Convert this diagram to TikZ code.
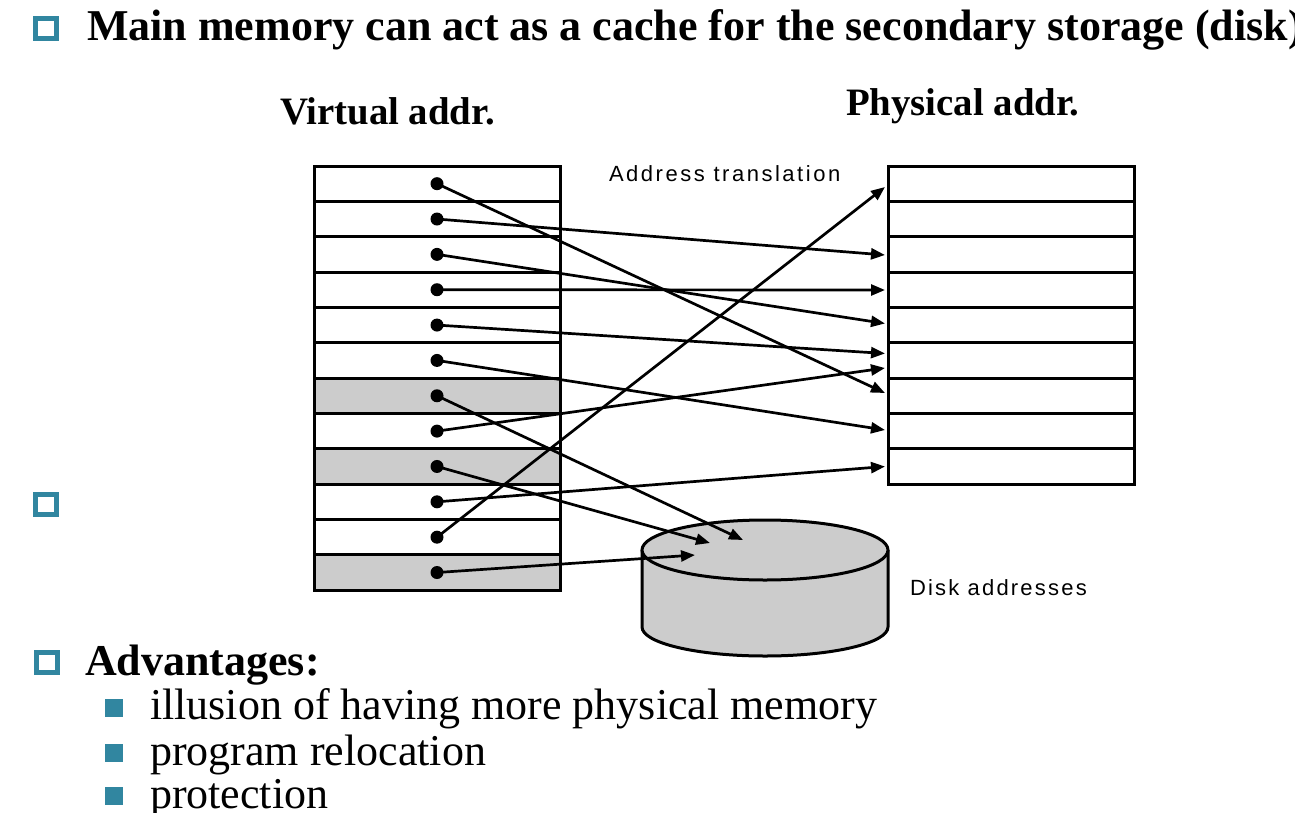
\documentclass[tikz,border=0pt]{standalone}
\usepackage{fontspec}
\setmainfont{Liberation Serif}
\newfontfamily\arialfont{Liberation Sans}
\usetikzlibrary{arrows.meta}
\definecolor{teal1}{RGB}{49,134,160}
\definecolor{cellgray}{RGB}{204,204,204}
\begin{document}
\begin{tikzpicture}[x=0.5pt,y=-0.5pt,
  cell/.style={draw=black, line width=1.5pt, minimum width=123pt, minimum height=17.675pt, inner sep=0pt, outer sep=0pt},
  dotnode/.style={circle, fill=black, inner sep=0pt, minimum size=6.5pt},
  link/.style={line width=1.35pt, -{Triangle[length=7pt,width=5.5pt]}},
  hbullet/.style={draw=teal1, line width=2.5pt, minimum width=10.5pt, minimum height=10pt, inner sep=0pt, fill=white},
  fbullet/.style={fill=teal1, minimum size=9pt, inner sep=0pt},
  txt/.style={anchor=base west, inner sep=0pt, outer sep=0pt},
  bigbold/.style={font=\fontsize{22pt}{26pt}\selectfont\bfseries},
  bigreg/.style={font=\fontsize{22pt}{26pt}\selectfont},
  headbold/.style={font=\fontsize{19.4pt}{23pt}\selectfont\bfseries},
]
\useasboundingbox (0,0) rectangle (1295,813);
\fill[white] (0,0) rectangle (1295,813);

% bullets and text
\node[hbullet] (b1) at (46,28.5) {};
\node[txt, bigbold] (title) at (87,40.7) {Main memory can act as a cache for the secondary storage (disk)};
\node[hbullet] (b2) at (46,504.5) {};
\node[hbullet] (b3) at (46.5,662) {};
\node[txt, bigbold] (adv) at (85,675) {Advantages:};
\node[fbullet] (s1) at (114,707.5) {};
\node[txt, bigreg] (i1) at (150,719.3) {illusion of having more physical memory};
\node[fbullet] (s2) at (114,753) {};
\node[txt, bigreg] (i2) at (150,765) {program relocation};
\node[fbullet] (s3) at (114,796) {};
\node[txt, bigreg] (i3) at (150,808) {protection};

\node[txt, headbold] (vhead) at (280,125) {Virtual addr.};
\node[txt, headbold] (phead) at (846,116) {Physical addr.};
\node[txt, font=\arialfont\fontsize{11pt}{13pt}\selectfont\addfontfeature{LetterSpace=11.5}] (atl) at (609,181) {Address translation};
\node[txt, font=\arialfont\fontsize{11pt}{13pt}\selectfont\addfontfeature{LetterSpace=10}] (dal) at (910,595) {Disk addresses};

% virtual table
\foreach \i/\f in {0/white,1/white,2/white,3/white,4/white,5/white,6/cellgray,7/white,8/cellgray,9/white,10/white,11/cellgray}
  \node[cell, fill=\f] (vr\i) at (437,{166+35.35*(\i+0.5)}) {};
% physical table
\foreach \i in {0,...,8}
  \node[cell, fill=white] (pr\i) at (1011,{166+35.35*(\i+0.5)}) {};

% disk
\filldraw[fill=cellgray, line width=1.5pt] (642,550) -- (642,627) arc[start angle=180, end angle=360, x radius=61.5pt, y radius=14.5pt] -- (888,550);
\filldraw[fill=cellgray, line width=1.5pt] (765,550) ellipse[x radius=61.5pt, y radius=15pt];

% dots
\foreach \i in {1,...,12}
  \node[dotnode] (v\i) at (437,{166+35.35*(\i-0.5)}) {};

% arrow targets
\coordinate (t1) at (885,393);
\coordinate (t2) at (885,255);
\coordinate (t3) at (885,323.5);
\coordinate (t4) at (885,290);
\coordinate (t5) at (885,353.5);
\coordinate (t6) at (885,430);
\coordinate (t7) at (743,540);
\coordinate (t8) at (885,368);
\coordinate (t9) at (710,543);
\coordinate (t10) at (885,466.5);
\coordinate (t11) at (885,187);
\coordinate (t12) at (695,555);

\foreach \i in {1,...,12}
  \draw[link] (v\i.center) -- (t\i);
\end{tikzpicture}
\end{document}
